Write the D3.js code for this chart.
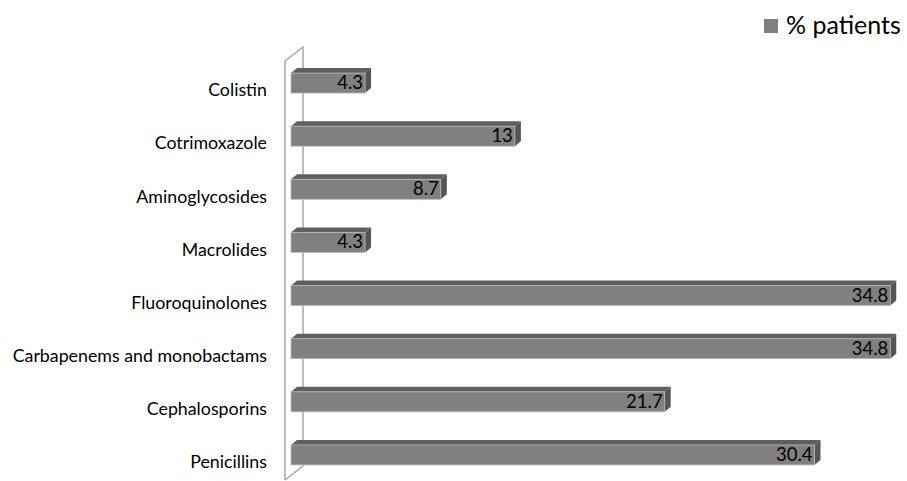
<!DOCTYPE html>
<html>
<head>
<meta charset="utf-8">
<script src="https://cdn.jsdelivr.net/npm/d3@7"></script>
<style>
  body { margin: 0; background: #fff; }
  svg { display: block; }
</style>
</head>
<body>
<div id="chart"></div>
<script>
// data
let categories = ["Colistin", "Cotrimoxazole", "Aminoglycosides", "Macrolides",
  "Fluoroquinolones", "Carbapenems and monobactams", "Cephalosporins", "Penicillins"];
let values = [4.3, 13, 8.7, 4.3, 34.8, 34.8, 21.7, 30.4];
let seriesName = "% patients";

let w = 907;
let h = 481;
let font = "Lato, 'Open Sans', sans-serif";

// depth of the fake 3d box and of each bar
let wallDx = 18, wallDy = -14;
let barDx = 6, barDy = -5;

let viz = d3.select("#chart")
  .append("svg")
  .attr("width", w)
  .attr("height", h);

let xScale = d3.scaleLinear()
  .domain([0, 35])
  .range([291, 291 + 35 * 17.22]);

let yScale = d3.scaleBand()
  .domain(categories)
  .range([56.5, 481.5])
  .paddingInner(0.624)
  .paddingOuter(0.312);

// the side wall (two verticals joined at top and bottom)
let front = 285, back = front + wallDx;
let wallTop = 61, wallBottom = 480;
let wall = viz.append("g").attr("class", "wall")
  .attr("fill", "none")
  .attr("stroke", "#a6a6a6")
  .attr("stroke-width", 1.5);
wall.append("path")
  .attr("d", "M" + front + "," + wallBottom + "L" + front + "," + wallTop +
    "L" + back + "," + (wallTop + wallDy) + "L" + back + "," + (wallBottom + wallDy) +
    "L" + front + "," + wallBottom);

let bars = viz.append("g").attr("class", "bars")
  .selectAll(".bar")
  .data(categories)
  .enter()
  .append("g")
  .attr("class", "bar");

bars.each(function (c, i) {
  let g = d3.select(this);
  let x0 = xScale(0), x1 = xScale(values[i]);
  let y0 = yScale(c), bh = yScale.bandwidth();
  // top face
  g.append("path")
    .attr("d", "M" + x0 + "," + y0 + "L" + (x0 + barDx) + "," + (y0 + barDy) +
      "L" + (x1 + barDx) + "," + (y0 + barDy) + "L" + x1 + "," + y0 + "Z")
    .attr("fill", "#5f5f5f");
  // end face
  g.append("path")
    .attr("d", "M" + x1 + "," + y0 + "L" + (x1 + barDx) + "," + (y0 + barDy) +
      "L" + (x1 + barDx) + "," + (y0 + barDy + bh) + "L" + x1 + "," + (y0 + bh) + "Z")
    .attr("fill", "#555555");
  // front face
  g.append("rect")
    .attr("x", x0)
    .attr("y", y0)
    .attr("width", x1 - x0)
    .attr("height", bh)
    .attr("fill", "#808080")
    .attr("stroke", "#b8b8b8")
    .attr("stroke-width", 0.8);
  // value label
  g.append("text")
    .attr("x", x1 - 2)
    .attr("y", y0 + bh - 4)
    .attr("text-anchor", "end")
    .attr("font-family", font)
    .attr("font-size", 18.5)
    .attr("fill", "#000")
    .text(String(values[i]));
});

// category labels
viz.append("g").attr("class", "labels")
  .selectAll("text")
  .data(categories)
  .enter()
  .append("text")
  .attr("x", 267)
  .attr("y", function (d) { return yScale(d) + yScale.bandwidth() / 2 + 7; })
  .attr("dy", "0.35em")
  .attr("text-anchor", "end")
  .attr("font-family", font)
  .attr("font-size", 17.8)
  .attr("fill", "#000")
  .text(function (d) { return d; });

// legend
let legend = viz.append("g").attr("class", "legend");
legend.append("rect")
  .attr("x", 764)
  .attr("y", 19)
  .attr("width", 14)
  .attr("height", 14)
  .attr("fill", "#808080");
legend.append("text")
  .attr("x", 786)
  .attr("y", 34)
  .attr("font-family", font)
  .attr("font-size", 25)
  .attr("fill", "#000")
  .text(seriesName);
</script>
</body>
</html>
